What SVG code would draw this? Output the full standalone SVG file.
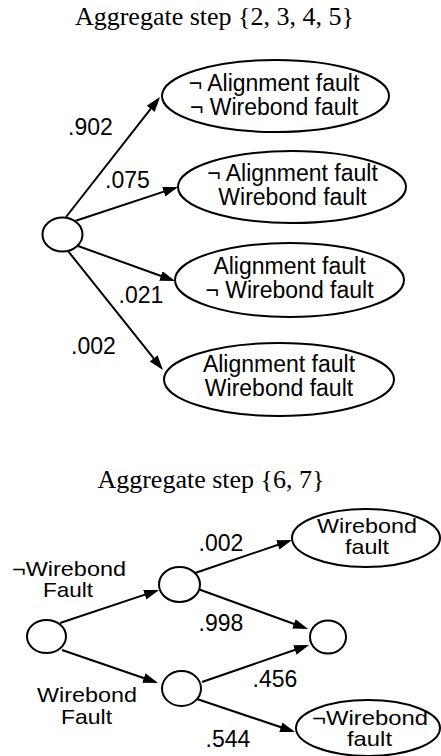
<svg xmlns="http://www.w3.org/2000/svg" width="441" height="756" viewBox="0 0 441 756">
  <style>
    .node { fill: #fff; stroke: #000; stroke-width: 2; }
    .edge { stroke: #000; stroke-width: 2; fill: none; marker-end: url(#arrow); }
    .lbl { font-family: "Liberation Sans", Arial, sans-serif; font-size: 23px; fill: #000; text-anchor: middle; }
    .tight { font-size: 21px; }
    .title { font-family: "Liberation Serif", "Times New Roman", serif; font-size: 26px; fill: #000; text-anchor: middle; }
  </style>
  <defs>
    <marker id="arrow" markerUnits="userSpaceOnUse" markerWidth="16" markerHeight="11" refX="12" refY="5" orient="auto">
      <path d="M0,0 L15,5 L0,10 z" fill="#000"/>
    </marker>
  </defs>
  <rect width="441" height="756" fill="#fff"/>

  <!-- Upper tree -->
  <text class="title" x="214.5" y="25">Aggregate step {2, 3, 4, 5}</text>

  <g id="edges-top">
    <line class="edge" x1="66" y1="217" x2="158.1" y2="99.4"/>
    <line class="edge" x1="75" y1="221" x2="175.2" y2="187.9"/>
    <line class="edge" x1="78" y1="246" x2="172.2" y2="280"/>
    <line class="edge" x1="68" y1="251" x2="161.1" y2="367.7"/>
    <text class="lbl" x="90.5" y="135">.902</text>
    <text class="lbl" x="127.5" y="188">.075</text>
    <text class="lbl" x="141" y="303">.021</text>
    <text class="lbl" x="93.5" y="354">.002</text>
  </g>

  <g id="root-top">
    <ellipse class="node" cx="62.5" cy="234.5" rx="20" ry="17"/>
  </g>
  <g id="no-align-no-wire">
    <ellipse class="node" cx="275.5" cy="96" rx="113.5" ry="36"/>
    <text class="lbl" x="274" y="91">¬ Alignment fault</text>
    <text class="lbl" x="274" y="115">¬ Wirebond fault</text>
  </g>
  <g id="no-align-wire">
    <ellipse class="node" cx="292" cy="187" rx="114" ry="36"/>
    <text class="lbl" x="292.5" y="181">¬ Alignment fault</text>
    <text class="lbl" x="292.5" y="205">Wirebond fault</text>
  </g>
  <g id="align-no-wire">
    <ellipse class="node" cx="289.5" cy="280" rx="114.5" ry="37"/>
    <text class="lbl" x="289.5" y="274">Alignment fault</text>
    <text class="lbl" x="289.5" y="298">¬ Wirebond fault</text>
  </g>
  <g id="align-wire">
    <ellipse class="node" cx="279" cy="379.5" rx="115" ry="36.5"/>
    <text class="lbl" x="279" y="372">Alignment fault</text>
    <text class="lbl" x="279" y="396">Wirebond fault</text>
  </g>

  <!-- Lower tree -->
  <text class="title" x="211" y="488">Aggregate step {6, 7}</text>

  <g id="edges-bottom">
    <line class="edge" x1="60" y1="623" x2="156.2" y2="590.9"/>
    <line class="edge" x1="62" y1="650" x2="155.2" y2="682"/>
    <line class="edge" x1="195" y1="573" x2="289.2" y2="541"/>
    <line class="edge" x1="198" y1="589" x2="305.2" y2="628"/>
    <line class="edge" x1="202" y1="682" x2="306.2" y2="646"/>
    <line class="edge" x1="197" y1="699" x2="292.2" y2="731"/>
    <text class="lbl tight" x="69" y="576" textLength="114" lengthAdjust="spacingAndGlyphs">¬Wirebond</text>
    <text class="lbl tight" x="68" y="597" textLength="50" lengthAdjust="spacingAndGlyphs">Fault</text>
    <text class="lbl tight" x="87" y="702" textLength="100" lengthAdjust="spacingAndGlyphs">Wirebond</text>
    <text class="lbl tight" x="86.5" y="724" textLength="51" lengthAdjust="spacingAndGlyphs">Fault</text>
    <text class="lbl" x="221" y="551">.002</text>
    <text class="lbl" x="221" y="631">.998</text>
    <text class="lbl" x="275" y="687">.456</text>
    <text class="lbl" x="228" y="747">.544</text>
  </g>

  <g id="root-bottom">
    <ellipse class="node" cx="46.5" cy="636.5" rx="19.5" ry="16.5"/>
  </g>
  <g id="no-wire-branch">
    <ellipse class="node" cx="179.5" cy="584.5" rx="20.5" ry="17.5"/>
  </g>
  <g id="wire-branch">
    <ellipse class="node" cx="181.5" cy="688.5" rx="19.5" ry="17.5"/>
  </g>
  <g id="merge">
    <ellipse class="node" cx="328" cy="637" rx="18" ry="16.5"/>
  </g>
  <g id="wire-fault">
    <ellipse class="node" cx="366" cy="538" rx="74" ry="29"/>
    <text class="lbl tight" x="367" y="533" textLength="100" lengthAdjust="spacingAndGlyphs">Wirebond</text>
    <text class="lbl tight" x="367" y="554" textLength="44" lengthAdjust="spacingAndGlyphs">fault</text>
  </g>
  <g id="no-wire-fault">
    <ellipse class="node" cx="368" cy="728" rx="72" ry="28"/>
    <text class="lbl tight" x="370" y="725" textLength="116" lengthAdjust="spacingAndGlyphs">¬Wirebond</text>
    <text class="lbl tight" x="369.5" y="746" textLength="45" lengthAdjust="spacingAndGlyphs">fault</text>
  </g>
</svg>
